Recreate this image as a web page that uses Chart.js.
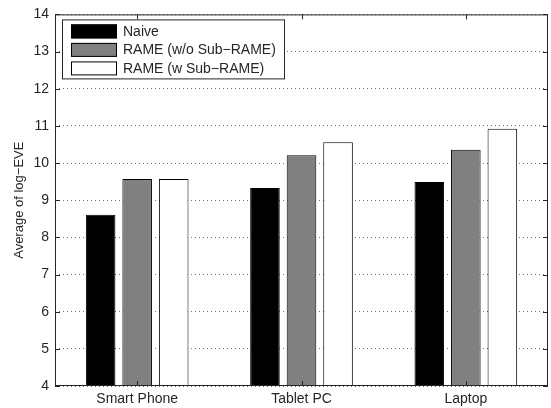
<!DOCTYPE html>
<html>
<head>
<meta charset="utf-8">
<script src="https://cdn.jsdelivr.net/npm/chart.js@4/dist/chart.umd.min.js"></script>
<style>
  html, body { margin: 0; padding: 0; background: #fff; }
  #wrap { width: 551px; height: 408px; }
</style>
</head>
<body>
<div id="wrap"><canvas id="c" width="551" height="408"></canvas></div>
<script>
// Device categories and average log-EVE per method
const categories = ['Smart Phone', 'Tablet PC', 'Laptop'];
const naive = [8.61, 9.33, 9.49];
const rameWithoutSub = [9.57, 10.21, 10.36];
const rameWithSub = [9.57, 10.56, 10.92];
const seriesNames = ['Naive', 'RAME (w/o Sub\u2212RAME)', 'RAME (w Sub\u2212RAME)'];
const yMin = 4, yMax = 14;

const FONT = "'Liberation Sans', Arial, Helvetica, sans-serif";
const INK = '#262626';

// Boxed frame with inward tick marks, plus a boxed legend in the upper left
const framePlugin = {
  id: 'frame',
  afterDatasetsDraw(chart) {
    const { ctx, chartArea: a, scales: { x, y } } = chart;
    ctx.save();
    ctx.strokeStyle = INK;
    ctx.lineWidth = 1;
    ctx.strokeRect(a.left + 0.5, a.top + 0.5, a.right - a.left - 1, a.bottom - a.top - 1);
    ctx.beginPath();
    y.ticks.forEach(t => {
      const py = Math.round(y.getPixelForValue(t.value)) + 0.5;
      ctx.moveTo(a.left, py); ctx.lineTo(a.left + 5, py);
      ctx.moveTo(a.right, py); ctx.lineTo(a.right - 5, py);
    });
    x.ticks.forEach((t, i) => {
      const px = Math.round(x.getPixelForTick(i)) + 0.5;
      ctx.moveTo(px, a.top); ctx.lineTo(px, a.top + 5);
      ctx.moveTo(px, a.bottom); ctx.lineTo(px, a.bottom - 5);
    });
    ctx.stroke();
    ctx.restore();
  },
  afterDraw(chart) {
    const { ctx, chartArea: a } = chart;
    const bx = a.left + 7, by = a.top + 5, bw = 223, bh = 60;
    ctx.save();
    ctx.fillStyle = '#fff';
    ctx.fillRect(bx, by, bw, bh);
    ctx.strokeStyle = INK;
    ctx.lineWidth = 1;
    ctx.strokeRect(bx + 0.5, by + 0.5, bw - 1, bh - 1);
    ctx.font = '14px ' + FONT;
    ctx.textBaseline = 'middle';
    ctx.textAlign = 'left';
    chart.data.datasets.forEach((ds, i) => {
      const rowTop = by + 5 + i * 18.5;
      ctx.fillStyle = ds.backgroundColor;
      ctx.fillRect(bx + 9, rowTop, 46, 14);
      ctx.strokeStyle = '#000';
      ctx.strokeRect(bx + 9.5, rowTop + 0.5, 45, 13);
      ctx.fillStyle = INK;
      ctx.fillText(ds.label, bx + 61, rowTop + 7.5);
    });
    ctx.restore();
  }
};

const barStyle = { borderColor: '#000', borderWidth: 1, borderSkipped: false,
                   categoryPercentage: 0.667, barPercentage: 0.81 };

new Chart(document.getElementById('c'), {
  type: 'bar',
  data: {
    labels: categories,
    datasets: [
      { label: seriesNames[0], data: naive, backgroundColor: '#000000', ...barStyle },
      { label: seriesNames[1], data: rameWithoutSub, backgroundColor: '#808080', ...barStyle },
      { label: seriesNames[2], data: rameWithSub, backgroundColor: '#ffffff', ...barStyle }
    ]
  },
  options: {
    responsive: false,
    animation: false,
    devicePixelRatio: 1,
    layout: { padding: { left: 0, right: 3, top: 13, bottom: 0 } },
    plugins: { legend: { display: false }, tooltip: { enabled: false } },
    scales: {
      x: {
        grid: { display: false, drawTicks: false },
        border: { display: false },
        ticks: { color: INK, font: { family: FONT, size: 14 }, padding: 5, maxRotation: 0 },
        afterFit(scale) { scale.height = 22; }
      },
      y: {
        min: yMin, max: yMax,
        grid: { color: 'rgba(0,0,0,0.55)', lineWidth: 1, drawTicks: false },
        border: { display: false, dash: [1, 3] },
        ticks: { stepSize: 1, color: INK, font: { family: FONT, size: 14 }, padding: 6 },
        title: { display: true, text: 'Average of log\u2212EVE', color: INK,
                 font: { family: FONT, size: 13 }, padding: { top: 12, bottom: 0 } },
        afterFit(scale) { scale.width = 55; }
      }
    }
  },
  plugins: [framePlugin]
});
</script>
</body>
</html>
